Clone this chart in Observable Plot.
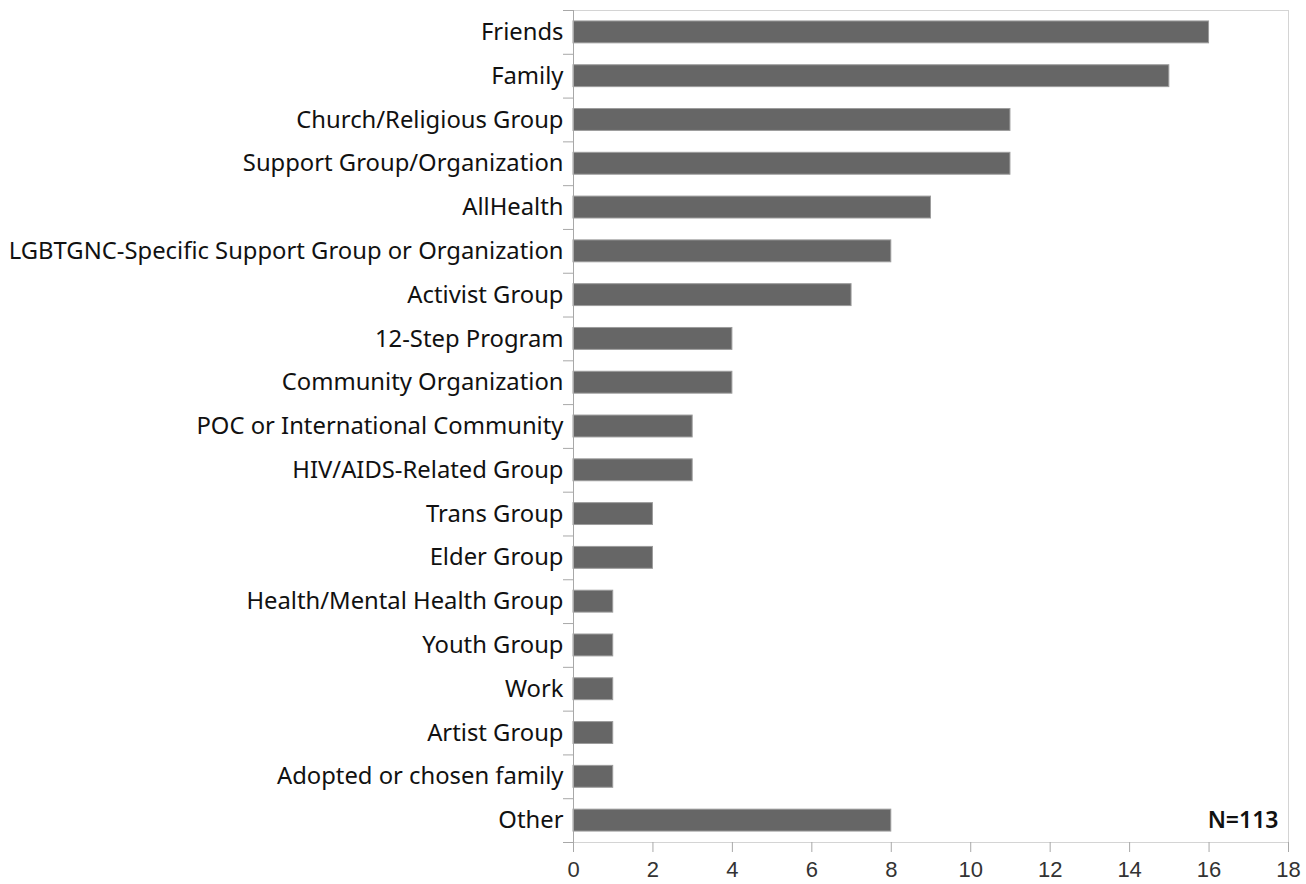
<!DOCTYPE html>
<html>
<head>
<meta charset="utf-8">
<script src="https://cdn.jsdelivr.net/npm/d3@7"></script>
<script src="https://cdn.jsdelivr.net/npm/@observablehq/plot@0.6"></script>
<style>
  html, body { margin: 0; padding: 0; background: #fff; }
  #chart svg { display: block; }
</style>
</head>
<body>
<div id="chart"></div>
<script>
const categories = [
  "Friends", "Family", "Church/Religious Group", "Support Group/Organization",
  "AllHealth", "LGBTGNC-Specific Support Group or Organization", "Activist Group",
  "12-Step Program", "Community Organization", "POC or International Community",
  "HIV/AIDS-Related Group", "Trans Group", "Elder Group", "Health/Mental Health Group",
  "Youth Group", "Work", "Artist Group", "Adopted or chosen family", "Other"
];
const counts = [16, 15, 11, 11, 9, 8, 7, 4, 4, 3, 3, 2, 2, 1, 1, 1, 1, 1, 8];
const xTicks = [0, 2, 4, 6, 8, 10, 12, 14, 16, 18];
const note = "N=113";

const data = categories.map((c, i) => ({category: c, value: counts[i]}));

const W = 1306, H = 884;
const mt = 10, mb = 42, ml = 573, mr = 18;
const step = (H - mt - mb) / categories.length;

const chart = Plot.plot({
  width: W,
  height: H,
  marginTop: mt,
  marginBottom: mb,
  marginLeft: ml,
  marginRight: mr,
  style: {fontFamily: "'Noto Sans', sans-serif", background: "#fff"},
  x: {domain: [0, 18]},
  y: {domain: categories, paddingInner: 0.5, paddingOuter: 0.25, round: false},
  marks: [
    Plot.frame({stroke: "#d4d4d4"}),
    Plot.barX(data, {x: "value", y: "category", fill: "#666666", stroke: "#9c9c9c", strokeWidth: 1}),
    Plot.ruleX([0], {stroke: "#a8a8a8"}),
    Plot.axisY({tickSize: 0, tickPadding: 10, label: null, fontSize: 23.8, fill: "#111"}),
    Plot.axisY({text: null, tickSize: 10, dy: -step / 2, stroke: "#a8a8a8", label: null}),
    Plot.axisY([categories[categories.length - 1]], {text: null, tickSize: 10, dy: step / 2, stroke: "#a8a8a8", label: null}),
    Plot.axisX({ticks: xTicks, tickSize: 10, tickPadding: 9, label: null, stroke: "#a8a8a8",
      fontSize: 22, fill: "#333", fontFamily: "'Liberation Sans Narrow', 'Liberation Sans', Arial, sans-serif"}),
    Plot.text([note], {frameAnchor: "bottom-right", lineAnchor: "middle", text: d => d, dx: -10, dy: -22,
      fontSize: 23, fontWeight: 600, fill: "#111"})
  ]
});

document.getElementById("chart").appendChild(chart);
</script>
</body>
</html>
